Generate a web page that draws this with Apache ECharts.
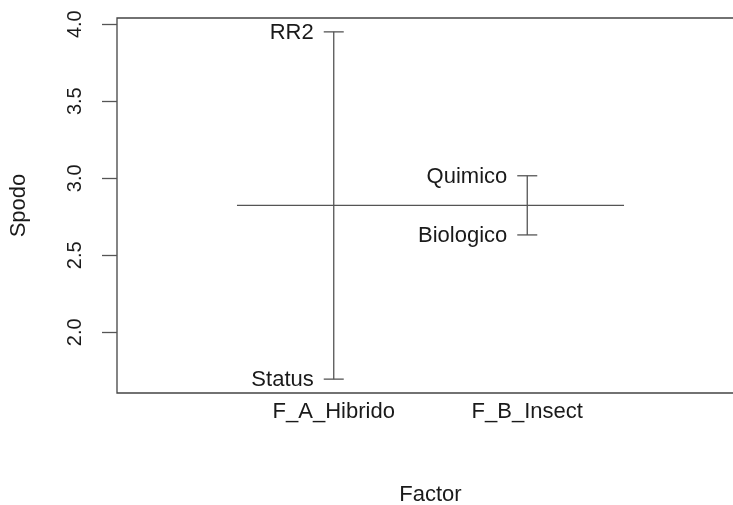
<!DOCTYPE html>
<html>
<head>
<meta charset="utf-8">
<script src="https://cdn.jsdelivr.net/npm/echarts@6/dist/echarts.min.js"></script>
<style>
  html, body { margin: 0; padding: 0; background: #fff; }
  #main { width: 733px; height: 505px; }
</style>
</head>
<body>
<div id="main"></div>
<script>
// factors and the mean of Spodo for each level (plot.design)
const factors = ['F_A_Hibrido', 'F_B_Insect'];
const levelNames = [['RR2', 'Status'], ['Quimico', 'Biologico']];
const levelMeans = [[3.950, 1.696], [3.016, 2.632]];
const grandMean = 2.824;
const yTicks = [2.0, 2.5, 3.0, 3.5, 4.0];

const FONT = "'Liberation Sans', Arial, sans-serif";
const lineColor = '#555';

// one row per level: [factor x position, level mean, level name]
const levelRows = [];
factors.forEach((f, i) => {
  levelNames[i].forEach((n, j) => {
    levelRows.push([i + 1, levelMeans[i][j], n]);
  });
});

const series = [];
// grand mean line
series.push({
  type: 'line',
  data: [[0.5, grandMean], [factors.length + 0.5, grandMean]],
  symbol: 'none',
  silent: true,
  lineStyle: { color: lineColor, width: 1.3 }
});
// vertical range for each factor
factors.forEach((f, i) => {
  series.push({
    type: 'line',
    data: [[i + 1, Math.min(...levelMeans[i])], [i + 1, Math.max(...levelMeans[i])]],
    symbol: 'none',
    silent: true,
    lineStyle: { color: lineColor, width: 1.3 }
  });
});
// level ticks + names
series.push({
  type: 'custom',
  data: levelRows,
  silent: true,
  renderItem: function (params, api) {
    const p = api.coord([api.value(0), api.value(1)]);
    const name = levelRows[params.dataIndex][2];
    return {
      type: 'group',
      children: [
        {
          type: 'line',
          shape: { x1: p[0] - 10, y1: p[1], x2: p[0] + 10, y2: p[1] },
          style: { stroke: lineColor, lineWidth: 1.3 }
        },
        {
          type: 'text',
          x: p[0] - 20,
          y: p[1] + 1,
          style: {
            text: name,
            align: 'right',
            verticalAlign: 'middle',
            fill: '#1a1a1a',
            fontSize: 22,
            fontFamily: FONT
          }
        }
      ]
    };
  }
});

const chart = echarts.init(document.getElementById('main'), null, { renderer: 'canvas' });
chart.setOption({
  animation: false,
  backgroundColor: '#fff',
  grid: {
    left: 117,
    top: 18,
    width: 627,
    height: 375,
    show: true,
    borderColor: '#444',
    borderWidth: 1.3,
    containLabel: false,
    outerBoundsMode: 'none'
  },
  xAxis: {
    type: 'value',
    min: -0.12,
    max: factors.length + 1.12,
    name: 'Factor',
    nameLocation: 'middle',
    nameGap: 91,
    nameTextStyle: { fontSize: 22, fontFamily: FONT, color: '#1a1a1a' },
    axisLine: { show: false, onZero: false },
    axisTick: { show: false },
    splitLine: { show: false },
    axisLabel: {
      customValues: factors.map((f, i) => i + 1),
      formatter: v => factors[Math.round(v) - 1] || '',
      fontSize: 22,
      fontFamily: FONT,
      color: '#1a1a1a',
      margin: 8
    }
  },
  yAxis: {
    type: 'value',
    min: 1.606,
    max: 4.040,
    name: 'Spodo',
    nameLocation: 'middle',
    nameGap: 87,
    nameRotate: 90,
    nameTextStyle: { fontSize: 22, fontFamily: FONT, color: '#1a1a1a' },
    axisLine: { show: false, onZero: false },
    splitLine: { show: false },
    axisTick: {
      customValues: yTicks,
      length: 15,
      lineStyle: { color: lineColor, width: 1.3 }
    },
    axisLabel: {
      customValues: yTicks,
      formatter: v => v.toFixed(1),
      rotate: 90,
      fontSize: 20,
      fontFamily: FONT,
      color: '#1a1a1a',
      margin: 32
    }
  },
  series: series
});
</script>
</body>
</html>
